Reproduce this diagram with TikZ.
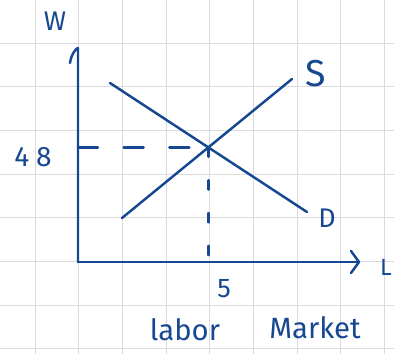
\documentclass[tikz,border=0pt]{standalone}
\usepackage{fontspec}
\setmainfont{Fira Sans}
\usetikzlibrary{arrows.meta}
\definecolor{ink}{RGB}{22,72,145}
\tikzset{ink line/.style={draw=ink,line width=2.1pt,line cap=round,line join=round},
 grid line/.style={draw=black!14,line width=0.8pt},
 guide/.style={ink line,dash pattern=on 17pt off 22pt},
 hand/.style={text=ink,inner sep=0pt}}
\begin{document}
\begin{tikzpicture}[x=0.03cm,y=-0.03cm]
 \useasboundingbox (0,0) rectangle (394,354);
 % squared paper
 \foreach \i in {0,...,8}{
  \draw[grid line] ({35+43.7*\i},0)--({35+43.7*\i},354);
 }
 \foreach \j in {0,...,7}{
  \draw[grid line] (0,{43+43.7*\j})--(394,{43+43.7*\j});
 }
 % axes
 \coordinate (O) at (78,262);
 \coordinate (top) at (78,48);
 \coordinate (right) at (359,262);
 \draw[ink line] (O)--(top) .. controls (76,48) and (71,55) .. (70,63);
 \draw[ink line] (O)--(right);
 \draw[ink line] (351,251) -- (right) -- (351,273);
 % supply and demand
 \coordinate (s1) at (122,218);
 \coordinate (s2) at (292,79);
 \coordinate (d1) at (110,83);
 \coordinate (d2) at (307,212);
 \draw[ink line] (s1)--(s2);
 \draw[ink line] (d1)--(d2);
 \coordinate (E) at (intersection of s1--s2 and d1--d2);
 \draw[guide] (O |- E)--(E);
 \draw[ink line,dash pattern=on 8pt off 20pt] (E)--(E |- O);
 % labels
 \node[hand,font=\fontsize{23}{23}\selectfont] (wlab) at (55,21) {W};
 \node[hand,font=\fontsize{32}{32}\selectfont] (slab) at (316,74) {S};
 \node[hand,font=\fontsize{23}{23}\selectfont] (dlab) at (327,218) {D};
 \node[hand,font=\fontsize{20}{20}\selectfont] (llab) at (386,267) {L};
 \node[hand,font=\fontsize{24}{24}\selectfont] (wval) at (33,157) {4\hspace{6pt}8};
 \node[hand,font=\fontsize{23}{23}\selectfont] (lval) at (224,289) {5};
 \node[hand,font=\fontsize{25}{25}\selectfont] (title1) at (185,330) {labor};
 \node[hand,font=\fontsize{25}{25}\selectfont] (title2) at (315,328) {Market};
\end{tikzpicture}
\end{document}
